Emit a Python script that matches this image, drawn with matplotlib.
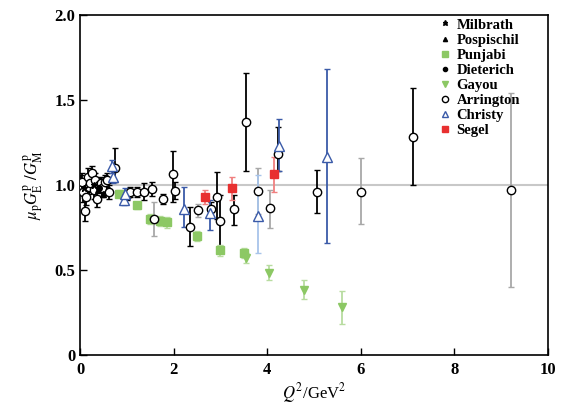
import numpy as np
import matplotlib
matplotlib.use('Agg')
import matplotlib.pyplot as plt

# Arrington, black error bars: Q2, ratio, lower end, upper end
arr_q2 = [0.02, 0.04, 0.07, 0.10, 0.13, 0.16, 0.19, 0.22, 0.26, 0.29, 0.33, 0.37, 0.40, 0.44,
          0.48, 0.53, 0.57, 0.61, 0.75, 1.00, 1.07, 1.21, 1.37, 1.53, 1.77, 1.99, 2.03, 2.35,
          2.79, 2.93, 3.00, 3.29, 3.54, 4.22, 5.07, 7.12]
arr_r = [1.00, 1.02, 0.96, 0.85, 0.93, 1.05, 0.99, 1.01, 1.07, 0.97, 1.03, 0.92, 1.00, 1.01,
         0.98, 1.02, 1.03, 0.96, 1.10, 0.94, 0.96, 0.96, 0.96, 0.975, 0.92, 1.065, 0.967, 0.755,
         0.857, 0.93, 0.79, 0.86, 1.37, 1.18, 0.96, 1.285]
arr_lo = [0.94, 0.97, 0.90, 0.79, 0.88, 1.00, 0.95, 0.96, 1.03, 0.92, 0.99, 0.87, 0.96, 0.97,
          0.93, 0.98, 0.99, 0.92, 1.02, 0.91, 0.93, 0.93, 0.91, 0.935, 0.89, 0.90, 0.92, 0.64,
          0.82, 0.80, 0.64, 0.765, 1.08, 1.085, 0.835, 1.00]
arr_hi = [1.06, 1.07, 1.02, 0.91, 0.98, 1.10, 1.03, 1.06, 1.11, 1.02, 1.07, 0.97, 1.04, 1.05,
          1.03, 1.06, 1.07, 1.00, 1.22, 0.97, 0.99, 0.99, 1.01, 1.015, 0.95, 1.20, 1.02, 0.87,
          0.90, 1.076, 0.94, 0.94, 1.66, 1.34, 1.09, 1.57]

# Arrington, grey error bars
arrg_q2 = [1.58, 2.53, 3.81, 4.06, 6.00, 9.21]
arrg_r = [0.80, 0.853, 0.966, 0.863, 0.96, 0.97]
arrg_lo = [0.70, 0.81, 0.83, 0.75, 0.77, 0.40]
arrg_hi = [0.90, 0.89, 1.10, 0.97, 1.157, 1.543]

# Christy, dark blue error bars
chr_q2 = [0.68, 0.71, 0.93, 0.97, 2.22, 2.78, 4.26, 5.27]
chr_r = [1.11, 1.05, 0.91, 0.95, 0.86, 0.835, 1.23, 1.167]
chr_lo = [1.07, 1.01, 0.88, 0.92, 0.755, 0.735, 1.08, 0.66]
chr_hi = [1.15, 1.09, 0.94, 0.98, 0.99, 0.91, 1.39, 1.68]

# Christy, light blue error bar
chrl_q2 = [3.80]
chrl_r = [0.82]
chrl_lo = [0.60]
chrl_hi = [1.06]

seg_q2 = [2.67, 3.25, 4.15]
seg_r = [0.93, 0.98, 1.065]
seg_lo = [0.89, 0.91, 0.96]
seg_hi = [0.97, 1.05, 1.165]

pun_q2 = [0.83, 1.21, 1.50, 1.70, 1.85, 2.49, 2.99, 3.50]
pun_r = [0.95, 0.88, 0.80, 0.79, 0.78, 0.70, 0.615, 0.60]
pun_err = [0.02, 0.02, 0.03, 0.03, 0.03, 0.03, 0.03, 0.03]

gay_q2 = [3.54, 4.04, 4.79, 5.60]
gay_r = [0.57, 0.485, 0.385, 0.28]
gay_err = [0.03, 0.045, 0.055, 0.095]

mil_q2 = [0.09, 0.29]
mil_r = [0.98, 1.00]
pos_q2 = [0.38, 0.50]
pos_r = [0.97, 0.95]
die_q2 = [0.40]
die_r = [0.98]

plt.rcParams['font.family'] = ['Liberation Serif', 'DejaVu Serif']
plt.rcParams['mathtext.fontset'] = 'stix'

def yerr(r, lo, hi):
    r = np.array(r)
    return [r - np.array(lo), np.array(hi) - r]

fig = plt.figure(figsize=(5.72, 4.13), dpi=100)
ax = fig.add_axes([0.1399, 0.1404, 0.8182, 0.8233])

ax.axhline(1.0, color='#c8c8c8', lw=1.5, zorder=1)

ekw = dict(fmt='none', elinewidth=1.3, capsize=2.2, capthick=1.0, zorder=2)
ax.errorbar(arrg_q2, arrg_r, yerr=yerr(arrg_r, arrg_lo, arrg_hi), ecolor='#a8a8a8', **ekw)
ax.errorbar(arr_q2, arr_r, yerr=yerr(arr_r, arr_lo, arr_hi), ecolor='black', **ekw)
ax.errorbar(chrl_q2, chrl_r, yerr=yerr(chrl_r, chrl_lo, chrl_hi), ecolor='#a8c4ea', **ekw)
ax.errorbar(chr_q2, chr_r, yerr=yerr(chr_r, chr_lo, chr_hi), ecolor='#3a5aa8', **ekw)
ax.errorbar(seg_q2, seg_r, yerr=yerr(seg_r, seg_lo, seg_hi), ecolor='#f08080', **ekw)
ax.errorbar(pun_q2, pun_r, yerr=pun_err, ecolor='#b8dca0', **ekw)
ax.errorbar(gay_q2, gay_r, yerr=gay_err, ecolor='#b8dca0', **ekw)

ax.plot(mil_q2, mil_r, ls='none', marker='*', ms=5, color='black', label='Milbrath', zorder=4)
ax.plot(pos_q2, pos_r, ls='none', marker='^', ms=4, color='black', label='Pospischil', zorder=4)
ax.plot(pun_q2, pun_r, ls='none', marker='s', ms=5.5, color='#8cc864', label='Punjabi', zorder=3)
ax.plot(die_q2, die_r, ls='none', marker='o', ms=4, color='black', label='Dieterich', zorder=4)
ax.plot(gay_q2, gay_r, ls='none', marker='v', ms=5.5, color='#8cc864', label='Gayou', zorder=3)
ax.plot(arr_q2 + arrg_q2, arr_r + arrg_r, ls='none', marker='o', ms=6, mfc='white',
        mec='black', mew=1.0, label='Arrington', zorder=3)
ax.plot(chr_q2 + chrl_q2, chr_r + chrl_r, ls='none', marker='^', ms=6.5, mfc='white',
        mec='#3a5aa8', mew=1.0, label='Christy', zorder=3)
ax.plot(seg_q2, seg_r, ls='none', marker='s', ms=6, color='#e83030', label='Segel', zorder=3)

ax.set_xlim(0, 10)
ax.set_ylim(0, 2.0)
ax.set_xticks([0, 2, 4, 6, 8, 10])
ax.set_yticks([0, 0.5, 1.0, 1.5, 2.0])
ax.set_yticklabels(['0', '0.5', '1.0', '1.5', '2.0'])
ax.tick_params(direction='in', length=5, width=1, labelsize=12, top=False, right=False)
ax.tick_params(axis='x', pad=5)
for lab in ax.get_xticklabels() + ax.get_yticklabels():
    lab.set_fontweight('bold')
for s in ax.spines.values():
    s.set_linewidth(1.2)

ax.set_xlabel(r'$Q^2$/GeV$^2$', fontsize=12, labelpad=2)
ax.set_ylabel(r'$\mu_{\rm p}G_{\rm E}^{\rm p}\ /G_{\rm M}^{\rm p}$', fontsize=12, labelpad=6)

leg = ax.legend(loc='upper left', bbox_to_anchor=(0.77, 0.99), frameon=False,
                prop={'size': 10.5, 'weight': 'bold'}, handlelength=0.6, handletextpad=0.5,
                labelspacing=0.13, borderpad=0, borderaxespad=0, markerscale=0.75)

fig.savefig('out.png', dpi=100)
